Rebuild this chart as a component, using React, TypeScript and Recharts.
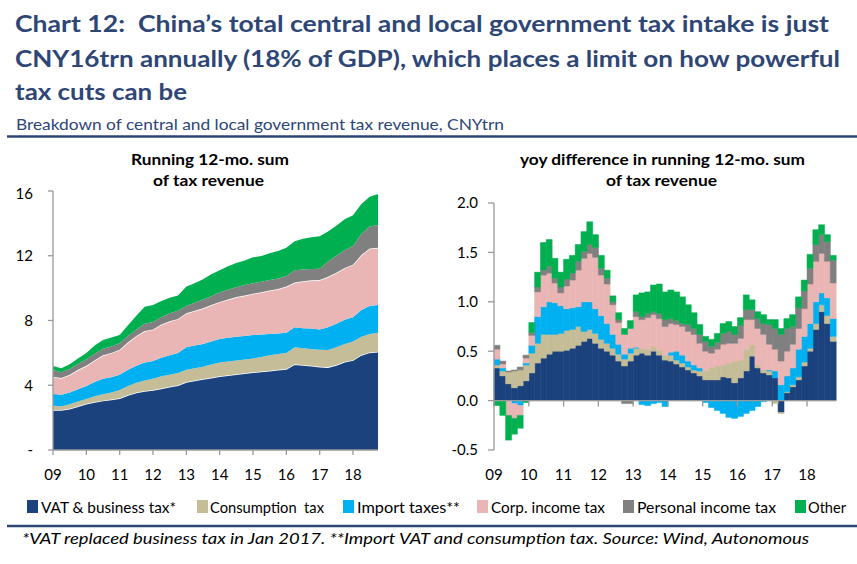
import React from "react";
import {
  AreaChart,
  Area,
  BarChart,
  Bar,
  XAxis,
  YAxis,
  ReferenceLine,
} from "recharts";

// ---- data ----
// left panel: running 12-mo sum, CNYtrn, quarterly readings Jan-09 .. Oct-18
const levelStart = 2009;
const vatLevel = [2.47, 2.47, 2.55, 2.7, 2.85, 2.97, 3.05, 3.12, 3.2, 3.4, 3.55, 3.65, 3.7, 3.8, 3.9, 4.0, 4.2, 4.3, 4.38, 4.47, 4.55, 4.62, 4.68, 4.74, 4.8, 4.85, 4.9, 4.95, 5.0, 5.3, 5.25, 5.2, 5.15, 5.12, 5.25, 5.45, 5.55, 5.87, 6.03, 6.07];
const consLevel = [0.27, 0.23, 0.27, 0.3, 0.3, 0.35, 0.4, 0.43, 0.5, 0.55, 0.6, 0.65, 0.7, 0.75, 0.75, 0.75, 0.75, 0.75, 0.77, 0.81, 0.85, 0.85, 0.85, 0.85, 0.85, 0.9, 0.95, 0.98, 1.0, 1.05, 1.03, 1.04, 1.05, 1.06, 1.1, 1.1, 1.15, 1.13, 1.14, 1.18];
const importLevel = [0.72, 0.72, 0.73, 0.75, 0.8, 0.88, 0.95, 0.95, 0.95, 1.0, 1.05, 1.1, 1.1, 1.15, 1.2, 1.25, 1.4, 1.4, 1.4, 1.42, 1.45, 1.46, 1.47, 1.46, 1.45, 1.38, 1.31, 1.27, 1.25, 1.23, 1.24, 1.26, 1.25, 1.4, 1.45, 1.5, 1.5, 1.65, 1.73, 1.71];
const corpLevel = [1.07, 1.03, 1.1, 1.2, 1.25, 1.35, 1.45, 1.5, 1.55, 1.7, 1.85, 1.95, 1.95, 2.05, 2.1, 2.1, 2.1, 2.15, 2.2, 2.25, 2.3, 2.37, 2.45, 2.5, 2.55, 2.62, 2.69, 2.75, 2.85, 2.77, 2.9, 2.98, 3.05, 3.12, 3.15, 3.2, 3.25, 3.4, 3.55, 3.54];
const persLevel = [0.41, 0.35, 0.35, 0.37, 0.4, 0.4, 0.4, 0.4, 0.4, 0.4, 0.4, 0.45, 0.45, 0.45, 0.5, 0.5, 0.45, 0.5, 0.55, 0.55, 0.6, 0.6, 0.6, 0.65, 0.65, 0.65, 0.65, 0.65, 0.65, 0.75, 0.73, 0.7, 0.7, 0.95, 1.05, 1.1, 1.15, 1.3, 1.35, 1.4];
const otherLevel = [0.25, 0.25, 0.3, 0.33, 0.4, 0.5, 0.55, 0.55, 0.5, 0.65, 0.85, 1.05, 1.05, 1.0, 0.95, 0.95, 1.2, 1.2, 1.25, 1.35, 1.35, 1.45, 1.5, 1.5, 1.6, 1.58, 1.65, 1.7, 1.75, 1.8, 1.9, 1.97, 2.0, 1.85, 1.85, 1.9, 1.9, 1.85, 1.85, 1.92];

// right panel: yoy difference, CNYtrn, one reading per two months
const vatYoy = [0.33, 0.25, 0.17, 0.13, 0.15, 0.2, 0.28, 0.38, 0.43, 0.47, 0.5, 0.5, 0.51, 0.53, 0.56, 0.6, 0.63, 0.58, 0.53, 0.5, 0.46, 0.4, 0.35, 0.4, 0.46, 0.48, 0.46, 0.5, 0.46, 0.41, 0.4, 0.37, 0.34, 0.31, 0.28, 0.25, 0.21, 0.21, 0.21, 0.24, 0.23, 0.18, 0.23, 0.3, 0.45, 0.33, 0.28, 0.26, 0.23, -0.12, 0.08, 0.14, 0.21, 0.35, 0.5, 0.72, 0.9, 0.78, 0.6];
const consYoy = [0.03, 0.05, 0.12, 0.17, 0.16, 0.16, 0.2, 0.2, 0.24, 0.2, 0.17, 0.18, 0.2, 0.19, 0.19, 0.1, 0.09, 0.1, 0.09, 0.08, 0.07, 0.07, 0.07, 0.08, 0.07, 0.05, 0.06, 0.05, 0.05, 0.05, 0.06, 0.04, 0.04, 0.03, 0.03, 0.05, 0.09, 0.12, 0.14, 0.12, 0.15, 0.22, 0.18, 0.22, 0.12, 0.03, 0.03, 0.04, -0.03, -0.01, 0.01, 0.02, 0.03, 0.04, 0.03, 0.06, 0.07, 0.08, 0.05];
const importYoy = [0.06, 0.03, 0, -0.03, -0.05, 0.02, 0.08, 0.27, 0.28, 0.33, 0.32, 0.28, 0.22, 0.22, 0.2, 0.3, 0.28, 0.25, 0.24, 0.2, 0.14, 0.1, 0.05, 0.05, 0.01, -0.04, -0.05, -0.03, -0.02, -0.06, 0.03, 0.09, 0.08, 0.06, 0.05, 0.03, -0.02, -0.07, -0.1, -0.13, -0.17, -0.18, -0.16, -0.13, -0.1, -0.06, -0.01, 0.01, 0.07, 0.16, 0.16, 0.17, 0.28, 0.26, 0.25, 0.22, 0.12, 0.18, 0.18];
const corpYoy = [0.1, 0.04, -0.15, -0.15, -0.1, 0.05, 0.1, 0.25, 0.32, 0.29, 0.2, 0.13, 0.23, 0.28, 0.37, 0.44, 0.49, 0.52, 0.41, 0.4, 0.3, 0.22, 0.2, 0.2, 0.31, 0.29, 0.32, 0.32, 0.32, 0.29, 0.29, 0.27, 0.29, 0.3, 0.31, 0.25, 0.2, 0.15, 0.17, 0.21, 0.2, 0.18, 0.22, 0.3, 0.25, 0.37, 0.36, 0.26, 0.22, 0.24, 0.25, 0.24, 0.21, 0.28, 0.4, 0.41, 0.4, 0.37, 0.36];
const persYoy = [0.04, 0.03, 0.01, 0.01, 0.03, 0.03, 0.03, 0.05, 0.05, 0.07, 0.05, 0.06, 0.07, 0.07, 0.09, 0.07, 0.09, 0.1, 0.07, 0.06, 0.03, 0.03, -0.03, -0.03, 0.05, 0.03, 0.04, 0.03, 0.05, 0.07, 0.05, 0.04, 0.03, 0.07, 0.06, 0.09, 0.1, 0.07, 0.07, 0.11, 0.12, 0.09, 0.13, 0.1, 0.1, 0.1, 0.11, 0.2, 0.21, 0.27, 0.23, 0.18, 0.21, 0.18, 0.16, 0.17, 0.19, 0.2, 0.23];
const otherYoy = [-0.05, -0.15, -0.25, -0.16, -0.13, -0.02, 0.1, 0.15, 0.28, 0.27, 0.2, 0.15, 0.2, 0.18, 0.17, 0.2, 0.23, 0.13, 0.13, 0.08, 0.06, 0.07, 0.06, 0.08, 0.17, 0.24, 0.22, 0.27, 0.3, 0.28, 0.29, 0.29, 0.27, 0.2, 0.16, 0.1, 0.05, 0.07, 0.09, 0.1, 0.1, 0.08, 0.08, 0.15, 0.1, 0.07, 0.09, 0.05, 0.09, 0.06, 0.1, 0.12, 0.11, 0.11, 0.14, 0.15, 0.1, 0.07, 0.05];

const yearTicks = [2009, 2010, 2011, 2012, 2013, 2014, 2015, 2016, 2017, 2018];
const leftYTicks = [0, 4, 8, 12, 16];
const rightYTicks = [-0.5, 0, 0.5, 1, 1.5, 2];
const rightYDomain = [-0.5, 2];

const series = [
  { key: "vat", name: "VAT & business tax*", color: "#1B427D" },
  { key: "cons", name: "Consumption  tax", color: "#C4BD97" },
  { key: "imp", name: "Import taxes**", color: "#00B0F0" },
  { key: "corp", name: "Corp. income tax", color: "#EAB6B5" },
  { key: "pers", name: "Personal income tax", color: "#808080" },
  { key: "other", name: "Other", color: "#00B050" },
];

const leftData = vatLevel.map((v, i) => ({
  x: levelStart + i / 4,
  vat: v,
  cons: consLevel[i],
  imp: importLevel[i],
  corp: corpLevel[i],
  pers: persLevel[i],
  other: otherLevel[i],
}));

// one bar per two-month period; "p" is the period start
const rightData = vatYoy.map((v, i) => ({
  p: levelStart + i / 6,
  vat: v,
  cons: consYoy[i],
  imp: importYoy[i],
  corp: corpYoy[i],
  pers: persYoy[i],
  other: otherYoy[i],
}));
const rightTicks = rightData.filter((_, i) => i % 6 === 0).map((d) => d.p);

// ---- layout ----
const FONT = "Lato, 'Open Sans', sans-serif";
const NAVY = "#2E4676";
const AXIS = "#999999";
const RIGHT_PLOT_H = 247;
const legendPos = [
  { sq: 27, tx: 41, len: 135 },
  { sq: 197, tx: 210, len: 114 },
  { sq: 343, tx: 357, len: 103 },
  { sq: 477, tx: 491, len: 114 },
  { sq: 623, tx: 637, len: 139 },
  { sq: 795, tx: 808, len: 38 },
];
const tickStyle = { fill: "#000", fontSize: 15, fontFamily: FONT };

function Header() {
  return (
    <svg width={857} height={564} style={{ position: "absolute", left: 0, top: 0 }}>
      <g fill={NAVY} fontFamily={FONT} fontWeight="bold" fontSize={22}>
        <text x={15} y={32} textLength={814} lengthAdjust="spacingAndGlyphs">
          {"Chart 12:\u00a0 China’s total central and local government tax intake is just"}
        </text>
        <text x={15} y={67} textLength={825} lengthAdjust="spacingAndGlyphs">
          CNY16trn annually (18% of GDP), which places a limit on how powerful
        </text>
        <text x={15} y={100} textLength={172} lengthAdjust="spacingAndGlyphs">
          tax cuts can be
        </text>
      </g>
      <text x={16} y={130} fill={NAVY} fontFamily={FONT} fontSize={15} textLength={488} lengthAdjust="spacingAndGlyphs">
        Breakdown of central and local government tax revenue, CNYtrn
      </text>
      <line x1={7} x2={857} y1={136.5} y2={136.5} stroke={NAVY} strokeWidth={2.5} />

      <g fill="#000" fontFamily={FONT} fontWeight="bold" fontSize={16}>
        <text x={131} y={165} textLength={158} lengthAdjust="spacingAndGlyphs">Running 12-mo. sum</text>
        <text x={153} y={186} textLength={111} lengthAdjust="spacingAndGlyphs">of tax revenue</text>
        <text x={520} y={165} textLength={285} lengthAdjust="spacingAndGlyphs">yoy difference in running 12-mo. sum</text>
        <text x={606} y={186} textLength={111} lengthAdjust="spacingAndGlyphs">of tax revenue</text>
      </g>

      {series.map((s, i) => (
        <g key={s.key}>
          <rect x={legendPos[i].sq} y={500} width={11} height={13} fill={s.color} />
          <text
            x={legendPos[i].tx}
            y={513}
            fontFamily={FONT}
            fontSize={16}
            fill="#000"
            textLength={legendPos[i].len}
            lengthAdjust="spacingAndGlyphs"
            style={{ whiteSpace: "pre" }}
          >
            {s.name}
          </text>
        </g>
      ))}
      <line x1={7} x2={857} y1={526} y2={526} stroke={NAVY} strokeWidth={2.5} />
      <text x={22} y={544} fontFamily={FONT} fontStyle="italic" fontSize={16} fill="#000" textLength={787} lengthAdjust="spacingAndGlyphs">
        *VAT replaced business tax in Jan 2017. **Import VAT and consumption tax. Source: Wind, Autonomous
      </text>
    </svg>
  );
}

function LevelChart() {
  return (
    <AreaChart width={400} height={300} data={leftData} margin={{ top: 6, right: 22, left: 13, bottom: 5 }}>
      <XAxis
        dataKey="x"
        type="number"
        domain={[2009, 2018.75]}
        ticks={yearTicks}
        tickFormatter={(v) => String(v).slice(2)}
        stroke={AXIS}
        strokeWidth={1.3}
        tickSize={5}
        tickMargin={14}
        tick={tickStyle}
        height={30}
      />
      <YAxis
        domain={[0, 16]}
        ticks={leftYTicks}
        tickFormatter={(v) => (v === 0 ? "-" : String(v))}
        stroke={AXIS}
        strokeWidth={1.3}
        tickSize={5}
        tickMargin={15}
        tick={tickStyle}
        width={40}
      />
      {series.map((s) => (
        <Area
          key={s.key}
          type="linear"
          dataKey={s.key}
          stackId="lvl"
          fill={s.color}
          fillOpacity={1}
          stroke={s.key === "vat" || s.key === "corp" ? "#ffffff" : "none"}
          strokeWidth={1.5}
          isAnimationActive={false}
        />
      ))}
    </AreaChart>
  );
}

// year label under the plot, plus a small tick mark on the zero line (band start)
function YearTick(props: any) {
  const { x, y, payload } = props;
  const bx = x - (payload.offset || 0);
  const zeroUp = (RIGHT_PLOT_H * (0 - rightYDomain[0])) / (rightYDomain[1] - rightYDomain[0]);
  return (
    <g>
      <line x1={bx} x2={bx} y1={y - zeroUp} y2={y - zeroUp + 6} stroke={AXIS} strokeWidth={1.3} />
      <text x={bx} y={y + 19} dy="0.71em" textAnchor="middle" {...tickStyle}>
        {String(Math.round(payload.value)).slice(2)}
      </text>
    </g>
  );
}

function YoyChart() {
  return (
    <BarChart
      width={417}
      height={300}
      data={rightData}
      stackOffset="sign"
      barCategoryGap={0}
      barGap={0}
      margin={{ top: 18, right: 21, left: 14, bottom: 5 }}
    >
      <XAxis
        dataKey="p"
        ticks={rightTicks}
        interval={0}
        axisLine={false}
        tickLine={false}
        tickSize={0}
        tickMargin={0}
        tick={<YearTick />}
        height={30}
      />
      <YAxis
        domain={rightYDomain}
        ticks={rightYTicks}
        tickFormatter={(v) => v.toFixed(1)}
        stroke={AXIS}
        strokeWidth={1.3}
        tickSize={6}
        tickMargin={10}
        tick={tickStyle}
        width={40}
        allowDataOverflow
      />
      {series.map((s) => (
        <Bar
          key={s.key}
          dataKey={s.key}
          stackId="yoy"
          fill={s.color}
          stroke={s.color}
          strokeWidth={0.5}
          isAnimationActive={false}
        />
      ))}
      <ReferenceLine y={0} stroke={AXIS} strokeWidth={1.3} />
    </BarChart>
  );
}

export default function App() {
  return (
    <div
      style={{
        position: "absolute",
        left: 0,
        top: 0,
        width: 857,
        height: 564,
        background: "#fff",
        fontFamily: FONT,
      }}
    >
      <Header />
      <div style={{ position: "absolute", left: 0, top: 185 }}>
        <LevelChart />
      </div>
      <div style={{ position: "absolute", left: 440, top: 185 }}>
        <YoyChart />
      </div>
    </div>
  );
}
